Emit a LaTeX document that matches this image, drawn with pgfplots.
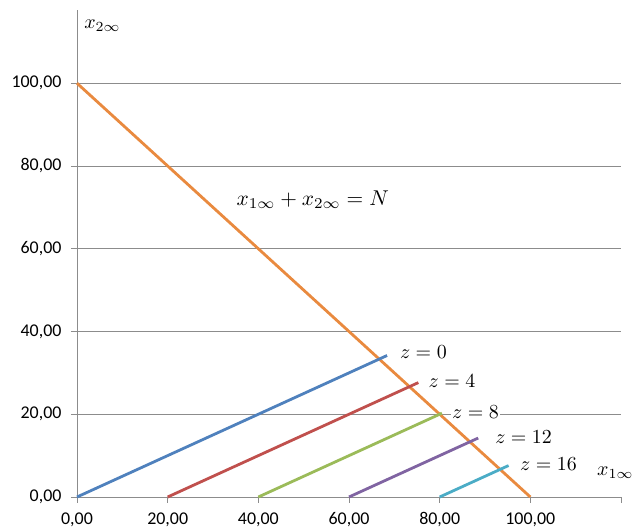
\documentclass[border=0pt]{standalone}
\usepackage{graphicx}
\usepackage{fontspec}
\setmainfont{Carlito}
\usepackage{pgfplots}
\pgfplotsset{compat=1.18}
\definecolor{cblue}{HTML}{4F81BD}
\definecolor{cred}{HTML}{C0504D}
\definecolor{cgreen}{HTML}{9BBB59}
\definecolor{cpurple}{HTML}{8064A2}
\definecolor{cteal}{HTML}{4BACC6}
\definecolor{corange}{HTML}{E98A3F}
\definecolor{cgrid}{HTML}{8C8C8C}
\newcommand{\M}[1]{\scalebox{2.0}{$#1$}}
\tikzset{lbl/.style={inner sep=1pt}}
\begin{document}
\begin{tikzpicture}[x=1bp,y=1bp]
\begin{axis}[
  at={(0,0)}, anchor=south west,
  scale only axis, width=544bp, height=487bp,
  xmin=0, xmax=120, ymin=0, ymax=117.7,
  axis x line=bottom, axis y line=left,
  axis line style={-, draw=cgrid, line width=0.9bp},
  xtick={0,20,40,60,80,100,120},
  xticklabels={{0,00},{20,00},{40,00},{60,00},{80,00},{100,00},{}},
  ytick={0,20,40,60,80,100},
  yticklabels={{0,00},{20,00},{40,00},{60,00},{80,00},{100,00}},
  tick align=outside, major tick length=6bp,
  tick style={draw=cgrid, line width=0.9bp},
  ymajorgrids, grid style={draw=cgrid, line width=0.9bp},
  tick label style={font=\fontsize{18}{20}\selectfont},
  xticklabel style={yshift=-6bp},
  yticklabel style={xshift=-6bp},
  clip=false,
]
\addplot[corange, line width=2.8bp] coordinates {(0,100) (100,0)};
\addplot[cblue, line width=2.8bp] coordinates {(0,0) (68.4,34.2)};
\addplot[cred, line width=2.8bp] coordinates {(20,0) (75.3,27.65)};
\addplot[cgreen, line width=2.8bp] coordinates {(40,0) (80.5,20.25)};
\addplot[cpurple, line width=2.8bp] coordinates {(60,0) (88.5,14.25)};
\addplot[cteal, line width=2.8bp] coordinates {(80,0) (95.2,7.6)};
\node[lbl, anchor=west] at (axis cs:71,35) {\M{z=0}};
\node[lbl, anchor=west] at (axis cs:77.3,28) {\M{z=4}};
\node[lbl, anchor=west, fill=white] at (axis cs:82.5,20.5) {\M{z=8}};
\node[lbl, anchor=west] at (axis cs:92,14.5) {\M{z=12}};
\node[lbl, anchor=west] at (axis cs:97.5,8) {\M{z=16}};
\node[lbl] at (axis cs:52,71.8) {\scalebox{2.15}{$x_{1\infty}+x_{2\infty}=N$}};
\node[lbl] at (axis cs:5.6,114) {\M{x_{2\infty}}};
\node[lbl, anchor=east] at (axis cs:123,5.8) {\M{x_{1\infty}}};
\end{axis}
\pgfresetboundingbox
\path (-77,-33) rectangle (561,497);
\end{tikzpicture}
\end{document}
